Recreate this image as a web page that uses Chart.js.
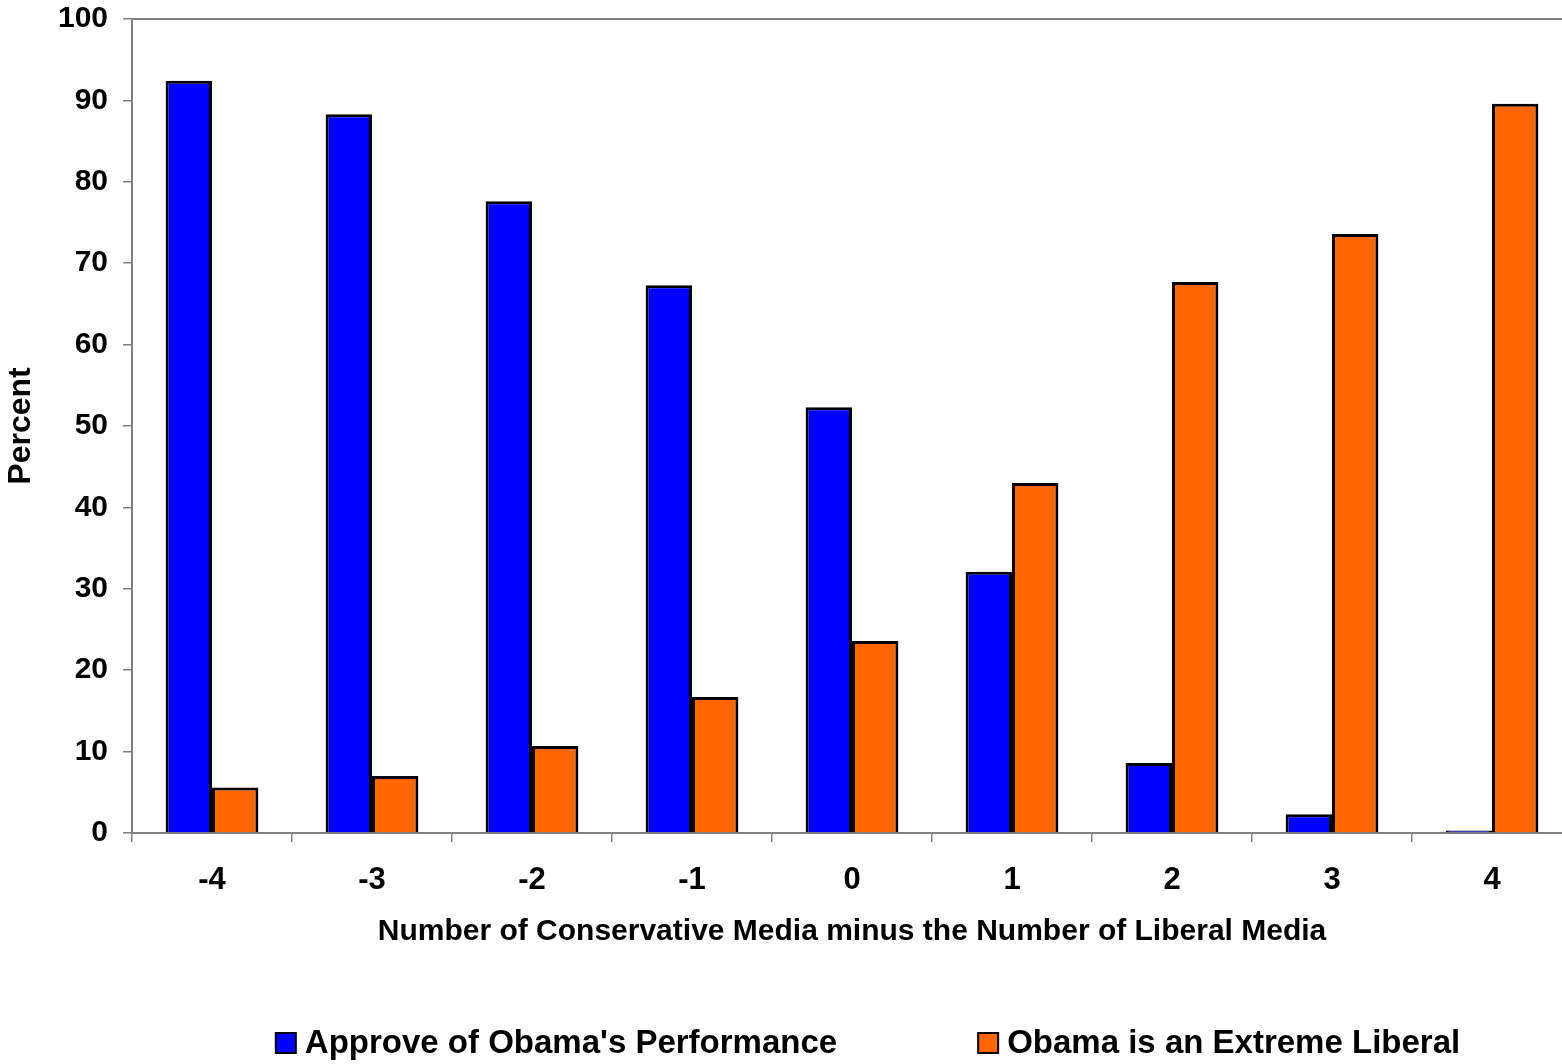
<!DOCTYPE html>
<html>
<head>
<meta charset="utf-8">
<title>Media exposure and views of Obama</title>
<script src="https://cdn.jsdelivr.net/npm/chart.js@4.4.1/dist/chart.umd.min.js"></script>
<style>
  html, body { margin: 0; padding: 0; background: #fff; overflow: hidden; }
  /* the original plot runs a little past the right edge of the picture */
  #wrap { width: 1572px; height: 1064px; }
</style>
</head>
<body>
<div id="wrap"><canvas id="mediaChart"></canvas></div>
<script>
// Chart data
const categories = ['-4', '-3', '-2', '-1', '0', '1', '2', '3', '4'];
const approveValues = [92.4, 88.3, 77.6, 67.3, 52.3, 32.1, 8.6, 2.3, 0.3];
const extremeLiberalValues = [5.6, 7.0, 10.7, 16.7, 23.6, 43.0, 67.7, 73.6, 89.6];
const seriesNames = ["Approve of Obama's Performance", 'Obama is an Extreme Liberal'];
const seriesColors = ['#0000FF', '#FF6600'];
const yTicks = [0, 10, 20, 30, 40, 50, 60, 70, 80, 90, 100];

const FONT = "'Liberation Sans', Arial, sans-serif";
const AXIS_GRAY = '#808080';

// Top border line of the plot area + legend drawn under the axis title
const frameAndLegend = {
  id: 'frameAndLegend',
  afterDraw(chart) {
    const { ctx, chartArea } = chart;
    ctx.save();
    ctx.strokeStyle = AXIS_GRAY;
    ctx.lineWidth = 2;
    ctx.beginPath();
    ctx.moveTo(chartArea.left, chartArea.top);
    ctx.lineTo(chartArea.right, chartArea.top);
    ctx.stroke();

    // legend
    ctx.font = 'bold 33px ' + FONT;
    ctx.textBaseline = 'middle';
    ctx.textAlign = 'left';
    const box = 20, gap = 9, spacing = 141;
    const widths = chart.data.datasets.map(ds => ctx.measureText(ds.label).width);
    const total = widths.reduce((a, w) => a + box + gap + w, 0) + spacing;
    let x = (chartArea.left + chartArea.right) / 2 + 16 - total / 2;
    const y = 1043;
    chart.data.datasets.forEach((ds, i) => {
      ctx.fillStyle = ds.backgroundColor;
      ctx.fillRect(x, y - box / 2, box, box);
      ctx.strokeStyle = '#000';
      ctx.lineWidth = 2;
      ctx.strokeRect(x, y - box / 2, box, box);
      ctx.fillStyle = '#000';
      ctx.fillText(ds.label, x + box + gap, y + 1);
      x += box + gap + widths[i] + spacing;
    });
    ctx.restore();
  }
};

const ctx = document.getElementById('mediaChart').getContext('2d');
new Chart(ctx, {
  type: 'bar',
  data: {
    labels: categories,
    datasets: [
      {
        label: seriesNames[0],
        data: approveValues,
        backgroundColor: seriesColors[0],
        borderColor: '#000',
        borderWidth: 3,
      },
      {
        label: seriesNames[1],
        data: extremeLiberalValues,
        backgroundColor: seriesColors[1],
        borderColor: '#000',
        borderWidth: 3,
      },
    ],
  },
  options: {
    responsive: true,
    maintainAspectRatio: false,
    animation: false,
    devicePixelRatio: 1,
    layout: { padding: { top: 19, right: 0, bottom: 112, left: 0 } },
    datasets: {
      bar: { categoryPercentage: 0.58, barPercentage: 1.0 },
    },
    plugins: {
      legend: { display: false },
      tooltip: { enabled: false },
    },
    scales: {
      x: {
        grid: {
          display: true,
          drawOnChartArea: false,
          drawTicks: true,
          tickLength: 9,
          color: AXIS_GRAY,
          lineWidth: 1.5,
          offset: true,
        },
        border: { color: AXIS_GRAY, width: 2 },
        ticks: {
          color: '#000',
          padding: 20,
          font: { family: FONT, size: 31, weight: 'bold' },
        },
        title: {
          display: true,
          text: 'Number of Conservative Media minus the Number of Liberal Media',
          color: '#000',
          font: { family: FONT, size: 30, weight: 'bold' },
          padding: { top: 0, bottom: 2 },
        },
        afterFit(scale) {
          scale.height = 119;
          scale.paddingLeft = 0;
          scale.paddingRight = 0;
        },
      },
      y: {
        min: 0,
        max: 100,
        afterBuildTicks(scale) { scale.ticks = yTicks.map(v => ({ value: v })); },
        grid: {
          display: true,
          drawOnChartArea: false,
          drawTicks: true,
          tickLength: 9,
          color: AXIS_GRAY,
          lineWidth: 1.5,
        },
        border: { color: AXIS_GRAY, width: 2 },
        ticks: {
          color: '#000',
          padding: 15,
          font: { family: FONT, size: 30, weight: 'bold' },
        },
        title: {
          display: true,
          text: 'Percent',
          color: '#000',
          font: { family: FONT, size: 32, weight: 'bold' },
          padding: { top: 2, bottom: 0 },
        },
        afterFit(scale) {
          scale.width = 132;
          scale.paddingTop = 0;
          scale.paddingBottom = 0;
        },
      },
    },
  },
  plugins: [frameAndLegend],
});
</script>
</body>
</html>
